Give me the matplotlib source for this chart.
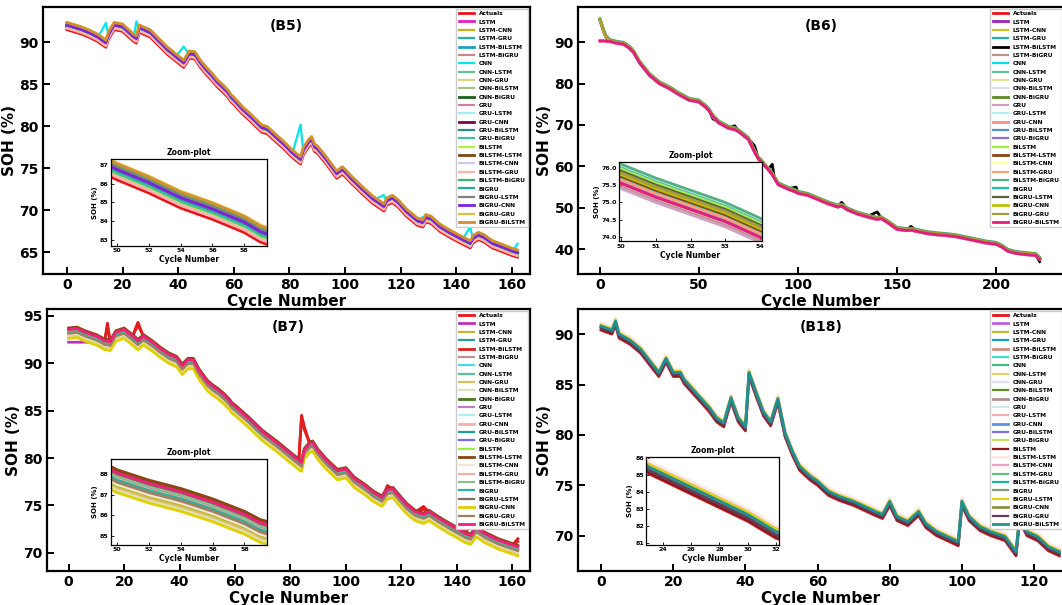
import numpy as np
import matplotlib
matplotlib.use("Agg")
import matplotlib.pyplot as plt

plt.rcParams['font.family'] = ['DejaVu Sans']
plt.rcParams['font.weight'] = 'bold'

labels = ["Actuals", "LSTM", "LSTM-CNN", "LSTM-GRU", "LSTM-BiLSTM", "LSTM-BiGRU",
          "CNN", "CNN-LSTM", "CNN-GRU", "CNN-BiLSTM", "CNN-BiGRU",
          "GRU", "GRU-LSTM", "GRU-CNN", "GRU-BiLSTM", "GRU-BiGRU",
          "BiLSTM", "BiLSTM-LSTM", "BiLSTM-CNN", "BiLSTM-GRU", "BiLSTM-BiGRU",
          "BiGRU", "BiGRU-LSTM", "BiGRU-CNN", "BiGRU-GRU", "BiGRU-BiLSTM"]

# ---------------- B5 ----------------
colors_b5 = ["#e8141c", "#e020c8", "#c8b418", "#20b2aa", "#1f9fbf", "#c48a8a",
             "#00e5ee", "#5fbf9f", "#e0d080", "#a8c080", "#1a5e1a",
             "#d080a0", "#a0f0f0", "#800040", "#2a8a8a", "#40c0a0",
             "#b0f040", "#7a4a10", "#d0c8f0", "#ffb0b0", "#3cb371",
             "#20b090", "#808080", "#7f20e0", "#e0c040", "#d09030"]
cycles_b5 = [0, 2, 5, 8, 11, 14, 15, 17, 20, 22, 24, 25, 26, 28, 30, 33, 36, 39, 42, 44, 46, 48,
             50, 51, 52, 53, 54, 55, 56, 57, 58, 59, 60, 63, 66, 70, 72, 75, 78, 81, 84, 85, 87, 88,
             89, 90, 93, 97, 99, 100, 102, 106, 110, 114, 115, 117, 119, 122, 126, 128, 129, 131,
             134, 138, 142, 145, 146, 148, 150, 153, 157, 160, 162]
actual_b5 = [91.5, 91.3, 91.0, 90.6, 90.1, 89.4, 90.4, 91.5, 91.3, 90.7, 90.1, 89.9, 91.2, 90.9, 90.6,
             89.6, 88.6, 87.8, 87.0, 88.1, 88.0, 87.0,
             86.2, 85.85, 85.5, 85.1, 84.7, 84.4, 84.1, 83.75, 83.4, 82.9, 82.6, 81.5, 80.6, 79.3,
             79.1, 78.2, 77.3, 76.3, 75.5, 76.6, 77.6, 77.9, 77.0, 76.8, 75.6, 73.8, 74.3, 74.0,
             73.3, 72.0, 70.8, 69.9, 70.6, 70.9, 70.4, 69.3, 68.2, 68.0, 68.6, 68.4, 67.5, 66.7,
             66.0, 65.5, 66.1, 66.5, 66.2, 65.5, 65.0, 64.6, 64.4]
bias_b5 = [0.35, 0.8, 0.3, 0.45, 0.5, 0.4, 0.55, 0.7, 0.6, 0.5, 0.45, 0.25, 0.4, 0.3, 0.35,
           0.2, 0.55, 0.6, 0.15, 0.75, 0.5, 0.65, 0.55, 0.9, 0.85]
spike_model_b5 = "CNN"
spike_cycles_b5 = [14, 25, 42, 84, 114, 128, 145, 162]
spike_vals_b5 = [92.3, 92.5, 89.5, 80.2, 71.8, 69.2, 68.0, 66.0]

# ---------------- B6 ----------------
colors_b6 = ["#e8141c", "#a020c0", "#d4c020", "#20b2aa", "#000000", "#c09090",
             "#00e5ee", "#5fbf9f", "#e0e090", "#e0d8f0", "#5a8a20",
             "#d0a0c0", "#b0f0f0", "#f09090", "#5090c0", "#9070e0",
             "#a0f040", "#8b4513", "#ffffa0", "#ffa07a", "#50b080",
             "#20c0b0", "#606040", "#c0c000", "#a0a040", "#e0207a"]
cycles_b6 = [0, 1, 2, 3, 4, 5, 8, 12, 15, 17, 20, 25, 30, 35, 40, 45, 50, 51, 52, 53, 54, 55, 57,
             60, 65, 68, 70, 75, 78, 80, 85, 87, 88, 90, 95, 99, 100, 105, 110, 115, 120, 122, 125,
             130, 135, 140, 142, 145, 150, 155, 157, 160, 165, 170, 175, 180, 185, 190, 195, 200,
             203, 206, 210, 215, 220, 222]
actual_b6 = [90.3, 90.3, 90.3, 90.3, 90.2, 90.2, 89.8, 89.5, 88.5, 87.5, 85.0, 82.0, 80.0, 78.8,
             77.3, 76.0, 75.55, 75.15, 74.8, 74.45, 74.0, 73.5, 72.0, 70.5, 69.2, 68.9, 68.4, 66.5,
             63.5, 61.8, 59.2, 58.0, 57.2, 55.6, 54.5, 53.8, 53.5, 53.0, 52.0, 51.0, 50.2, 50.4,
             49.5, 48.5, 47.8, 47.2, 47.4, 46.5, 44.8, 44.5, 44.6, 44.3, 43.8, 43.5, 43.3, 43.0,
             42.5, 42.0, 41.5, 41.2, 40.5, 39.5, 39.0, 38.7, 38.5, 37.6]
bias_b6 = [0.05, 0.25, 0.2, 0.1, -0.1, 0.15, 0.45, 0.35, 0.4, 0.3, -0.15, 0.05, 0.0, 0.1, 0.05,
           0.4, 0.2, 0.3, 0.1, 0.55, 0.3, 0.35, 0.25, 0.3, 0.0]
start_cycles_b6 = [0, 1, 2, 3, 4]
start_vals_b6 = [95.2, 93.8, 92.4, 91.2, 90.6]
flat_model_b6 = "BiGRU-BiLSTM"
spike_model_b6 = "LSTM-BiLSTM"
spike_cycles_b6 = [57, 68, 78, 87, 99, 122, 140, 157, 222]
spike_vals_b6 = [71.5, 69.8, 65.0, 60.5, 55.0, 51.3, 49.0, 45.5, 37.0]

# ---------------- B7 ----------------
colors_b7 = ["#e8141c", "#c030c0", "#c8b030", "#20a0a0", "#e02020", "#c09090",
             "#40e0f0", "#5fbf9f", "#d8c060", "#e0e0c0", "#4a7a20",
             "#c080c0", "#b0f0f0", "#f0b0b0", "#20a090", "#7b68ee",
             "#a0f040", "#8b4513", "#f0e8d8", "#f4b0a0", "#90c090",
             "#30b0a0", "#807060", "#e0d000", "#a08060", "#f0207a"]
cycles_b7 = [0, 3, 6, 10, 12, 13, 14, 15, 17, 20, 23, 25, 27, 30, 33, 36, 39, 41, 43, 45, 47,
             50, 51, 52, 53, 54, 55, 56, 57, 58, 59, 60, 65, 70, 75, 80, 83, 84, 85, 87, 88, 90, 93,
             97, 100, 103, 107, 110, 113, 115, 117, 119, 122, 125, 128, 130, 133, 137, 140, 143,
             145, 147, 150, 155, 160, 162]
actual_b7 = [93.5, 93.6, 93.2, 92.8, 92.5, 92.3, 92.3, 92.2, 93.2, 93.5, 92.8, 92.3, 92.8, 92.2,
             91.5, 90.9, 90.5, 89.7, 90.3, 90.3, 89.2,
             88.0, 87.75, 87.5, 87.3, 87.1, 86.85, 86.6, 86.3, 86.0, 85.6, 85.4, 84.1, 82.7, 81.6,
             80.4, 79.7, 79.5, 80.8, 81.5, 81.6, 80.7, 79.7, 78.6, 78.8, 77.8, 77.0, 76.3, 75.8,
             76.6, 76.7, 76.0, 75.0, 74.3, 74.0, 74.3, 73.7, 73.0, 72.5, 72.0, 71.8, 72.6, 72.0,
             71.3, 70.8, 70.6]
bias_b7 = [-0.3, -0.6, -0.2, 0.0, -0.1, -0.3, -0.2, -0.7, -0.8, 0.1, -0.1, -0.2, -0.4, -0.15,
           -0.35, -0.5, 0.2, -0.5, -0.25, -0.1, -0.3, 0.0, -0.9, -0.4, 0.05]
lstm_cycles_b7 = [0, 3, 6, 10, 12, 13]
lstm_vals_b7 = [92.2, 92.2, 92.2, 92.2, 92.2, 92.2]
spike_model_b7 = "Actuals"
spike_cycles_b7 = [14, 25, 84, 85, 115, 128, 145, 162]
spike_vals_b7 = [94.2, 94.3, 84.5, 83.3, 77.1, 74.9, 73.4, 71.5]

# ---------------- B18 ----------------
colors_b18 = ["#e8141c", "#c060e0", "#b0c030", "#10a0c0", "#d09080", "#40e0d0",
              "#40c080", "#e0d070", "#e0e0f0", "#5a8a20", "#b09090",
              "#d0e8f0", "#f0b0b0", "#6090e0", "#8070e0", "#c0e060",
              "#8b1a1a", "#ffe8e8", "#f0a0c0", "#60c080", "#20b0a0",
              "#80a080", "#e0d020", "#909040", "#604060", "#209090"]
cycles_b18 = [0, 3, 4, 5, 8, 11, 14, 16, 18, 20, 22, 23, 24, 25, 26, 27, 28, 29, 30, 31, 32, 34,
              36, 38, 40, 41, 43, 45, 47, 49, 51, 53, 55, 58, 60, 63, 66, 70, 73, 76, 78, 80, 82,
              85, 88, 90, 93, 96, 99, 100, 102, 105, 108, 112, 115, 116, 118, 121, 124, 127]
actual_b18 = [90.4, 90.0, 90.9, 89.6, 89.0, 88.1, 86.7, 85.8, 87.2, 85.8, 85.8, 85.1, 84.7, 84.3,
              83.9, 83.5, 83.1, 82.7, 82.3, 81.8, 81.3, 80.8, 83.3, 81.3, 80.4, 85.8, 83.8, 81.9,
              80.9, 83.2, 79.8, 78.0, 76.5, 75.5, 75.0, 74.0, 73.5, 73.0, 72.5, 72.0, 71.7, 73.0,
              71.5, 71.0, 72.0, 70.8, 70.0, 69.5, 69.0, 73.0, 71.5, 70.5, 70.0, 69.5, 68.0, 71.5,
              70.0, 69.5, 68.5, 68.0]
bias_b18 = [0.3, 0.5, 0.2, 0.35, 0.4, 0.45, 0.6, 0.25, 0.3, 0.5, 0.2, 0.7, 0.1, 0.15, 0.4,
            0.05, 0.75, 0.5, 0.45, 0.35, 0.4, 0.55, 0.3, 0.2, 0.4]

W, H = 1062, 605
fig = plt.figure(figsize=(W / 100, H / 100), dpi=100)


def px_axes(l, t, r, b):
    return fig.add_axes([l / W, (H - b) / H, (r - l) / W, (b - t) / H])


def build_series(cycles, actual, biases, overrides):
    series = [np.array(actual, dtype=float)]
    for i, bval in enumerate(biases):
        series.append(np.array(actual, dtype=float) + bval)
    cyc = list(cycles)
    for name, (cs, vs, add_bias) in overrides.items():
        k = labels.index(name)
        for c, v in zip(cs, vs):
            j = cyc.index(c)
            extra = biases[k - 1] if (add_bias and k > 0) else 0.0
            series[k][j] = v + extra
    return series


def draw(ax, cycles, series, colors):
    for k, s in enumerate(series):
        lw = 2.0 if k in (0, 1, 4, 10, 13, 17, 23, 25) else 1.6
        ax.plot(cycles, s, color=colors[k], lw=lw, label=labels[k], solid_joinstyle='round')


def style_main(ax, title, xlim, ylim, xticks, yticks):
    ax.set_xlim(*xlim)
    ax.set_ylim(*ylim)
    ax.set_xticks(xticks)
    ax.set_yticks(yticks)
    ax.tick_params(labelsize=10, width=1.4, length=5, direction='in', pad=3)
    for lab in ax.get_xticklabels() + ax.get_yticklabels():
        lab.set_fontweight('bold')
    for sp in ax.spines.values():
        sp.set_linewidth(1.6)
    ax.set_xlabel("Cycle Number", fontsize=11, fontweight='bold', labelpad=1)
    ax.set_ylabel("SOH (%)", fontsize=11, fontweight='bold', labelpad=2)
    ax.text(0.5, 0.93, title, transform=ax.transAxes, ha='center', va='center',
            fontsize=10, fontweight='bold')
    leg = ax.legend(loc='upper right', fontsize=4.2, handlelength=2.7, labelspacing=0.56,
                    borderpad=0.4, handletextpad=0.8, framealpha=1, edgecolor='#cccccc',
                    fancybox=False, borderaxespad=0.3)
    for t in leg.get_texts():
        t.set_fontweight('bold')


def inset(ax, rect, cycles, series, colors, xlim, ylim, xticks, yticks, yfmt=None):
    ia = ax.inset_axes(rect)
    for k, s in enumerate(series):
        ia.plot(cycles, s, color=colors[k], lw=2.0)
    ia.set_xlim(*xlim)
    ia.set_ylim(*ylim)
    ia.set_xticks(xticks)
    ia.set_yticks(yticks)
    if yfmt:
        ia.set_yticklabels([yfmt.format(v) for v in yticks])
    ia.tick_params(labelsize=4.5, width=0.6, length=2, direction='in', pad=1.5)
    for lab in ia.get_xticklabels() + ia.get_yticklabels():
        lab.set_fontweight('bold')
    for sp in ia.spines.values():
        sp.set_linewidth(0.9)
    ia.set_title("Zoom-plot", fontsize=5.5, fontweight='bold', pad=3)
    ia.set_xlabel("Cycle Number", fontsize=5.5, fontweight='bold', labelpad=1.5)
    ia.set_ylabel("SOH (%)", fontsize=5, fontweight='bold', labelpad=1.5)
    return ia


# B5
ax5 = px_axes(43, 7, 530, 274)
s5 = build_series(cycles_b5, actual_b5, bias_b5,
                  {spike_model_b5: (spike_cycles_b5, spike_vals_b5, False)})
draw(ax5, cycles_b5, s5, colors_b5)
style_main(ax5, "(B5)", (-8.6, 166.5), (62.4, 94.2), [0, 20, 40, 60, 80, 100, 120, 140, 160],
           [65, 70, 75, 80, 85, 90])
inset(ax5, [0.139, 0.106, 0.320, 0.324], cycles_b5, s5, colors_b5, (49.6, 59.4), (82.7, 87.3),
      [50, 52, 54, 56, 58], [83, 84, 85, 86, 87])

# B6
ax6 = px_axes(578, 7, 1064, 274)
ov6 = {}
for name in labels[1:]:
    if name != flat_model_b6:
        ov6[name] = (start_cycles_b6, start_vals_b6, True)
s6 = build_series(cycles_b6, actual_b6, bias_b6, ov6)
k6 = labels.index(spike_model_b6)
for c, v in zip(spike_cycles_b6, spike_vals_b6):
    s6[k6][cycles_b6.index(c)] = v
draw(ax6, cycles_b6, s6, colors_b6)
style_main(ax6, "(B6)", (-11.1, 234.3), (34.0, 98.5), [0, 50, 100, 150, 200],
           [40, 50, 60, 70, 80, 90])
inset(ax6, [0.085, 0.122, 0.293, 0.296], cycles_b6, s6, colors_b6, (49.95, 54.05), (73.88, 76.15),
      [50, 51, 52, 53, 54], [74.0, 74.5, 75.0, 75.5, 76.0], yfmt="{:.1f}")

# B7
ax7 = px_axes(47, 309, 530, 571)
s7 = build_series(cycles_b7, actual_b7, bias_b7,
                  {"LSTM": (lstm_cycles_b7, lstm_vals_b7, False),
                   spike_model_b7: (spike_cycles_b7, spike_vals_b7, False)})
k7 = labels.index("LSTM-BiLSTM")
for c, v in zip(spike_cycles_b7, spike_vals_b7):
    s7[k7][cycles_b7.index(c)] = v - 0.3
draw(ax7, cycles_b7, s7, colors_b7)
style_main(ax7, "(B7)", (-7.8, 166.4), (68.1, 95.7), [0, 20, 40, 60, 80, 100, 120, 140, 160],
           [70, 75, 80, 85, 90, 95])
inset(ax7, [0.132, 0.101, 0.323, 0.325], cycles_b7, s7, colors_b7, (49.6, 59.4), (84.6, 88.7),
      [50, 52, 54, 56, 58], [85, 86, 87, 88])

# B18
ax18 = px_axes(578, 309, 1064, 571)
s18 = build_series(cycles_b18, actual_b18, bias_b18, {})
draw(ax18, cycles_b18, s18, colors_b18)
style_main(ax18, "(B18)", (-6.4, 128.3), (66.5, 92.5), [0, 20, 40, 60, 80, 100, 120],
           [70, 75, 80, 85, 90])
inset(ax18, [0.14, 0.099, 0.273, 0.337], cycles_b18, s18, colors_b18, (22.8, 32.2), (80.9, 86.1),
      [24, 26, 28, 30, 32], [81, 82, 83, 84, 85, 86])

fig.savefig("out.png", dpi=100)
